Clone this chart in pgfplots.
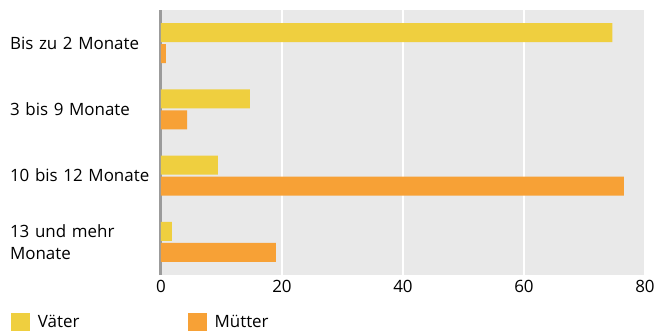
\documentclass[border=0pt]{standalone}
\usepackage{fontspec}
\setmainfont{Open Sans}
\usepackage{pgfplots}
\pgfplotsset{compat=1.18}
\definecolor{vater}{HTML}{EFCF3F}
\definecolor{mutter}{HTML}{F7A136}
\definecolor{bg}{HTML}{E9E9E9}
\definecolor{axgray}{HTML}{9B9B9B}
\begin{document}
\begin{tikzpicture}[font=\fontsize{12.7}{16.5}\selectfont]
\begin{axis}[
  at={(0,0)}, anchor=south west,
  scale only axis, width=363pt, height=198.75pt,
  xbar, bar width=14.25pt,
  xmin=0, xmax=80, ymin=-0.5, ymax=3.5,
  xtick={0,20,40,60,80},
  ytick={0,1,2,3},
  yticklabels={{13 und mehr\\Monate},{10 bis 12 Monate},{3 bis 9 Monate},{Bis zu 2 Monate}},
  yticklabel style={align=left, text width=105pt, anchor=east, inner sep=0pt, xshift=-8pt},
  xticklabel style={inner sep=0pt, anchor=north, yshift=-4pt},
  /pgf/number format/assume math mode=true,
  major tick length=0pt,
  axis background/.style={fill=bg},
  xmajorgrids, grid style={white, line width=1.5pt},
  axis x line=bottom, axis y line=left,
  axis line style={-},
  x axis line style={draw=none},
  y axis line style={draw=axgray, line width=2.25pt},
  legend columns=2,
  legend image code/.code={\fill[#1] (0pt,-7.125pt) rectangle (14.25pt,7.125pt);},
  legend style={at={(axis description cs:-0.3099,-0.1774)}, anchor=west,
    draw=none, fill=none, inner sep=0pt,
    /tikz/every even column/.append style={column sep=0pt}},
  legend cell align=left,
]
\addplot[fill=vater, draw=none, bar shift=7.875pt] coordinates {(74.6,3) (14.7,2) (9.4,1) (1.8,0)};
\addlegendentry{\hspace*{3.75pt}\makebox[110.5pt][l]{Väter}}
\addplot[fill=mutter, draw=none, bar shift=-7.875pt] coordinates {(0.8,3) (4.3,2) (76.5,1) (19.0,0)};
\addlegendentry{\hspace*{3.75pt}Mütter}
\end{axis}
\pgfresetboundingbox
\useasboundingbox (-120.75pt,-41.25pt) rectangle (372pt,206.25pt);
\end{tikzpicture}
\end{document}
